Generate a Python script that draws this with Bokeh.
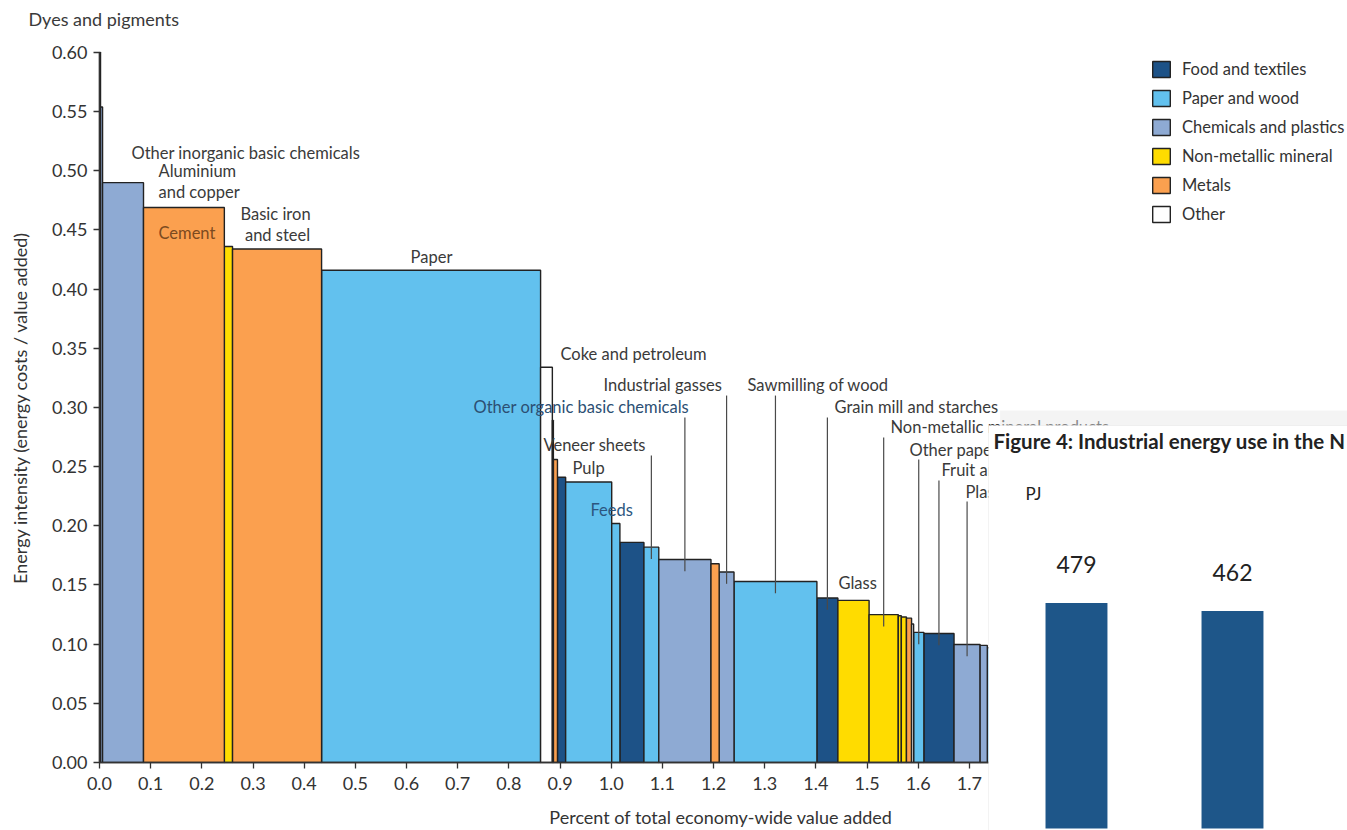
import numpy as np
from bokeh.plotting import figure
from bokeh.models import (Range1d, FixedTicker, NumeralTickFormatter, ColumnDataSource,
                          BoxAnnotation, Legend, LegendItem, LinearAxis)
from bokeh.core.properties import value
from bokeh.embed import file_html
from bokeh.resources import INLINE

# ---------------- data ----------------
sectors = ["Dyes and pigments", "", "Other inorganic basic chemicals", "Aluminium and copper",
           "Cement", "Basic iron and steel", "Paper", "Coke and petroleum", "", "", "",
           "Pulp", "", "Feeds", "Veneer sheets", "Other organic basic chemicals", "",
           "Industrial gasses", "Sawmilling of wood", "Grain mill and starches", "Glass",
           "Non-metallic mineral products", "", "", "", "", "Other paper products",
           "Fruit and vegetables", "Plastics", "", ""]
groups = ["chem", "chem", "chem", "metals", "mineral", "metals", "paper", "other", "other",
          "metals", "food", "paper", "paper", "food", "paper", "chem", "metals", "chem",
          "paper", "food", "mineral", "mineral", "mineral", "mineral", "metals", "other",
          "paper", "food", "chem", "chem", "paper"]
value_added = [0.002, 0.004, 0.080, 0.158, 0.016, 0.174, 0.428, 0.023, 0.002, 0.008, 0.016,
               0.090, 0.016, 0.047, 0.029, 0.102, 0.016, 0.029, 0.162, 0.041, 0.061, 0.057,
               0.006, 0.010, 0.010, 0.004, 0.020, 0.059, 0.051, 0.014, 0.010]
intensity = [0.600, 0.554, 0.490, 0.469, 0.436, 0.434, 0.416, 0.334, 0.289, 0.256, 0.241,
             0.237, 0.202, 0.186, 0.182, 0.1716, 0.168, 0.161, 0.153, 0.139, 0.137, 0.125,
             0.124, 0.123, 0.122, 0.117, 0.110, 0.109, 0.0997, 0.099, 0.097]

group_keys = ["food", "paper", "chem", "mineral", "metals", "other"]
group_names = ["Food and textiles", "Paper and wood", "Chemicals and plastics",
               "Non-metallic mineral", "Metals", "Other"]

y_ticks = [0.00, 0.05, 0.10, 0.15, 0.20, 0.25, 0.30, 0.35, 0.40, 0.45, 0.50, 0.55, 0.60]
x_ticks = [0.0, 0.1, 0.2, 0.3, 0.4, 0.5, 0.6, 0.7, 0.8, 0.9, 1.0, 1.1, 1.2, 1.3, 1.4, 1.5,
           1.6, 1.7, 1.8, 1.9, 2.0, 2.1, 2.2, 2.3, 2.4]

fig4_bars = [0, 1]
fig4_values = [479, 462]

# ---------------- styles / layout ----------------
group_colors = {"food": "#1d5287", "paper": "#62c1ee", "chem": "#8eaad3",
                "mineral": "#ffdc00", "metals": "#fba04f", "other": "#ffffff"}
TXT = "#3a3a3a"
FONT = "Lato"

# label layout: text, x, y, align, colour, size, sector it points to (leader line)
labels = [
    ("Dyes and pigments", -0.1388, 0.6287, "left", TXT, "18px", None),
    ("Other inorganic basic chemicals", 0.0625, 0.5154, "left", TXT, "16.5px", None),
    ("Aluminium", 0.1153, 0.4995, "left", TXT, "16.5px", None),
    ("and copper", 0.1153, 0.4817, "left", TXT, "16.5px", None),
    ("Cement", 0.1153, 0.4471, "left", "#7b4a20", "16.5px", None),
    ("Basic iron", 0.344, 0.4631, "center", TXT, "16.5px", None),
    ("and steel", 0.348, 0.4454, "center", TXT, "16.5px", None),
    ("Paper", 0.6488, 0.4276, "center", TXT, "16.5px", None),
    ("Coke and petroleum", 0.9009, 0.3456, "left", TXT, "16.5px", None),
    ("Industrial gasses", 0.9849, 0.3186, "left", TXT, "16.5px", "Industrial gasses"),
    ("Other organic basic chemicals", 0.7309, 0.3000, "left", "#2c4f73", "16.5px",
     "Other organic basic chemicals"),
    ("Sawmilling of wood", 1.2664, 0.3186, "left", TXT, "16.5px", "Sawmilling of wood"),
    ("Grain mill and starches", 1.4364, 0.3000, "left", TXT, "16.5px", "Grain mill and starches"),
    ("Veneer sheets", 0.8677, 0.2679, "left", TXT, "16.5px", "Veneer sheets"),
    ("Non-metallic mineral products", 1.5458, 0.2831, "left", TXT, "16.5px",
     "Non-metallic mineral products"),
    ("Pulp", 0.9244, 0.2485, "left", TXT, "16.5px", None),
    ("Other paper products", 1.5830, 0.2645, "left", TXT, "16.5px", "Other paper products"),
    ("Feeds", 0.9595, 0.2130, "left", "#2c5680", "16.5px", None),
    ("Fruit and vegetables", 1.6455, 0.2468, "left", TXT, "16.5px", "Fruit and vegetables"),
    ("Plastics", 1.6924, 0.2290, "left", TXT, "16.5px", "Plastics"),
    ("Glass", 1.4442, 0.1513, "left", TXT, "16.5px", None),
]

# ---------------- figure ----------------
p = figure(width=1347, height=830, output_backend="svg", toolbar_location=None,
           x_range=Range1d(-0.19347, 2.43893), y_range=Range1d(-0.05747, 0.64394),
           x_axis_location=None, y_axis_location=None, min_border=0)
p.outline_line_color = None
p.grid.visible = False
p.background_fill_color = "white"
p.border_fill_color = "white"
p.extra_x_ranges = {"fig4x": Range1d(-6.897, 1.7372)}
p.extra_y_ranges = {"fig4y": Range1d(-4.25, 1759.5)}

w = np.array(value_added)
h = np.array(intensity)
right = np.cumsum(w)
left = right - w
mid = (left + right) / 2

renderers = {}
for key in group_keys:
    idx = [i for i, g in enumerate(groups) if g == key]
    src = ColumnDataSource(dict(left=left[idx], right=right[idx], top=h[idx],
                                bottom=np.zeros(len(idx))))
    renderers[key] = p.quad(left="left", right="right", top="top", bottom="bottom",
                            source=src, fill_color=group_colors[key],
                            line_color="#222222", line_width=1.4)

# leader lines
lx, ly0, ly1 = [], [], []
for text, x, y, align, col, size, target in labels:
    if target is not None:
        i = sectors.index(target)
        lx.append(mid[i])
        ly0.append(y - 0.0085)
        ly1.append(h[i] - 0.010)
p.segment(x0=lx, y0=ly0, x1=lx, y1=ly1, line_color="#4a4a4a", line_width=1.2)

lab_src = ColumnDataSource(dict(
    x=[l[1] for l in labels], y=[l[2] for l in labels], text=[l[0] for l in labels],
    align=[l[3] for l in labels], color=[l[4] for l in labels], size=[l[5] for l in labels]))
p.text(x="x", y="y", text="text", source=lab_src, text_align="align",
       text_baseline="middle", text_color="color", text_font=value(FONT),
       text_font_size="size")

# axes
yaxis = LinearAxis(fixed_location=0, bounds=(0, 0.6), ticker=FixedTicker(ticks=y_ticks),
                   formatter=NumeralTickFormatter(format="0.00"),
                   axis_label="Energy intensity (energy costs / value added)")
xaxis = LinearAxis(fixed_location=0, bounds=(0, 2.43), ticker=FixedTicker(ticks=x_ticks),
                   formatter=NumeralTickFormatter(format="0.0"),
                   axis_label="Percent of total economy-wide value added")
for ax in (xaxis, yaxis):
    ax.major_tick_out = 6
    ax.major_tick_in = 0
    ax.minor_tick_out = 0
    ax.minor_tick_in = 0
    ax.axis_line_color = "#333333"
    ax.axis_line_width = 1.3
    ax.major_tick_line_color = "#333333"
    ax.major_tick_line_width = 1.3
    ax.major_label_text_font = FONT
    ax.major_label_text_font_size = "18px"
    ax.major_label_text_color = "#333333"
    ax.axis_label_text_font = FONT
    ax.axis_label_text_font_size = "18px"
    ax.axis_label_text_font_style = "normal"
    ax.axis_label_text_color = "#333333"
yaxis.major_label_standoff = 6
yaxis.axis_label_standoff = 18
xaxis.major_label_standoff = 9
xaxis.axis_label_standoff = 12
p.add_layout(xaxis, "below")
p.add_layout(yaxis, "left")

legend = Legend(items=[LegendItem(label=n, renderers=[renderers[k]])
                       for k, n in zip(group_keys, group_names)],
                location=(1150, 606), glyph_width=22, glyph_height=20, label_height=20,
                label_standoff=10, spacing=9, padding=0, margin=0,
                border_line_color=None, background_fill_alpha=0,
                label_text_font=FONT, label_text_font_size="16.5px", label_text_color="#333333")
p.add_layout(legend)

# ---------------- overlapping Figure 4 excerpt ----------------
shadow = BoxAnnotation(left=1.76, top=0.2975, fill_color="#e6e6e6", fill_alpha=0.45,
                       line_color=None)
box = BoxAnnotation(left=1.7373, top=0.2848, fill_color="white", fill_alpha=1.0,
                    line_color="#d4d4d4", line_width=1)
p.add_layout(shadow)
p.add_layout(box)

r = p.vbar(x=fig4_bars, top=fig4_values, bottom=0, width=0.397, fill_color="#1e5689",
           line_color=None, x_range_name="fig4x", y_range_name="fig4y")
r.level = "overlay"
t = p.text(x=fig4_bars, y=fig4_values, text=[str(v) for v in fig4_values], y_offset=-39,
           text_align="center", text_baseline="middle", text_font=value(FONT),
           text_font_size="23px", text_color="#222222",
           x_range_name="fig4x", y_range_name="fig4y")
t.level = "overlay"
t2 = p.text(x=[1.7471, 1.8097], y=[0.2713, 0.2273],
            text=["Figure 4: Industrial energy use in the N", "PJ"],
            text_align="left", text_baseline="middle", text_font=value(FONT),
            text_font_size=["20.5px", "17px"], text_font_style=["bold", "normal"],
            text_color="#222222")
t2.level = "overlay"

open("out.html", "w").write(file_html(p, INLINE))
